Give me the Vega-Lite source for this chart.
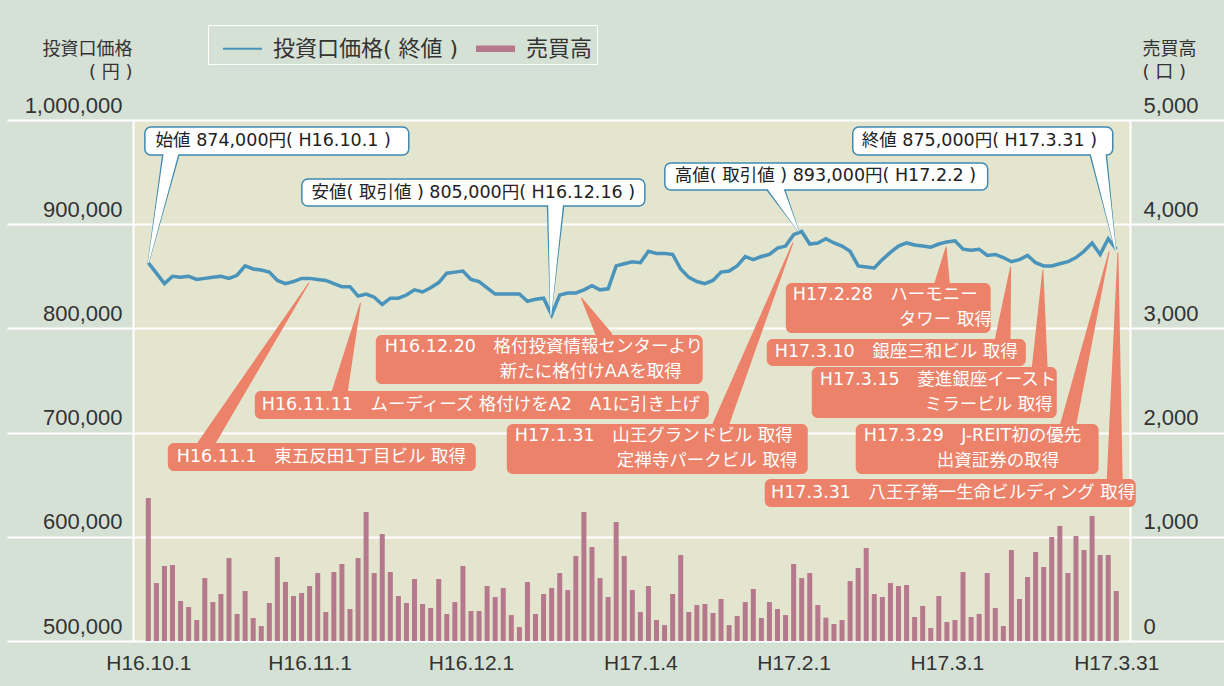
{
  "$schema": "https://vega.github.io/schema/vega-lite/v6.json",
  "width": 997,
  "height": 521,
  "autosize": {"type": "none"},
  "padding": {"left": 133, "top": 120, "right": 94, "bottom": 45},
  "background": "#d6e1d6",
  "config": {"view": {"fill": "#e4e5cf", "stroke": null}, "font": "Liberation Sans"},
  "datasets": {
    "main": [
      {"i":0,"p":863000,"v":1372},{"i":1,"p":853000,"v":556},{"i":2,"p":843000,"v":720},{"i":3,"p":850000,"v":729},{"i":4,"p":849000,"v":384},
      {"i":5,"p":850000,"v":326},{"i":6,"p":847000,"v":201},{"i":7,"p":848000,"v":604},{"i":8,"p":849000,"v":374},{"i":9,"p":850000,"v":451},
      {"i":10,"p":848000,"v":796},{"i":11,"p":851000,"v":259},{"i":12,"p":860000,"v":480},{"i":13,"p":857000,"v":221},{"i":14,"p":856000,"v":144},
      {"i":15,"p":854000,"v":365},{"i":16,"p":846000,"v":806},{"i":17,"p":843000,"v":566},{"i":18,"p":845000,"v":432},{"i":19,"p":848000,"v":461},
      {"i":20,"p":848000,"v":528},{"i":21,"p":847000,"v":652},{"i":22,"p":846000,"v":278},{"i":23,"p":843000,"v":662},{"i":24,"p":840000,"v":739},
      {"i":25,"p":840000,"v":307},{"i":26,"p":831000,"v":796},{"i":27,"p":833000,"v":1238},{"i":28,"p":830000,"v":652},{"i":29,"p":823000,"v":1027},
      {"i":30,"p":829000,"v":662},{"i":31,"p":829000,"v":432},{"i":32,"p":832000,"v":365},{"i":33,"p":837000,"v":595},{"i":34,"p":835000,"v":355},
      {"i":35,"p":839000,"v":317},{"i":36,"p":844000,"v":595},{"i":37,"p":853000,"v":259},{"i":38,"p":854000,"v":374},{"i":39,"p":855000,"v":720},
      {"i":40,"p":847000,"v":288},{"i":41,"p":845000,"v":288},{"i":42,"p":839000,"v":528},{"i":43,"p":833000,"v":422},{"i":44,"p":833000,"v":509},
      {"i":45,"p":833000,"v":249},{"i":46,"p":833000,"v":134},{"i":47,"p":826000,"v":566},{"i":48,"p":828000,"v":259},{"i":49,"p":829000,"v":451},
      {"i":50,"p":813000,"v":509},{"i":51,"p":832000,"v":652},{"i":52,"p":834000,"v":489},{"i":53,"p":834000,"v":816},{"i":54,"p":837000,"v":1238},
      {"i":55,"p":841000,"v":902},{"i":56,"p":837000,"v":604},{"i":57,"p":838000,"v":422},{"i":58,"p":860000,"v":1142},{"i":59,"p":862000,"v":816},
      {"i":60,"p":864000,"v":489},{"i":61,"p":863000,"v":278},{"i":62,"p":874000,"v":528},{"i":63,"p":872000,"v":201},{"i":64,"p":872000,"v":153},
      {"i":65,"p":871000,"v":451},{"i":66,"p":857000,"v":825},{"i":67,"p":849000,"v":278},{"i":68,"p":845000,"v":345},{"i":69,"p":843000,"v":355},
      {"i":70,"p":846000,"v":269},{"i":71,"p":854000,"v":403},{"i":72,"p":855000,"v":153},{"i":73,"p":860000,"v":240},{"i":74,"p":869000,"v":374},
      {"i":75,"p":866000,"v":499},{"i":76,"p":869000,"v":221},{"i":77,"p":871000,"v":374},{"i":78,"p":877000,"v":307},{"i":79,"p":879000,"v":249},
      {"i":80,"p":890000,"v":739},{"i":81,"p":893000,"v":604},{"i":82,"p":881000,"v":652},{"i":83,"p":882000,"v":345},{"i":84,"p":886000,"v":224},
      {"i":85,"p":882000,"v":163},{"i":86,"p":879000,"v":201},{"i":87,"p":874000,"v":576},{"i":88,"p":860000,"v":700},{"i":89,"p":859000,"v":892},
      {"i":90,"p":858000,"v":451},{"i":91,"p":866000,"v":422},{"i":92,"p":873000,"v":556},{"i":93,"p":879000,"v":528},{"i":94,"p":882000,"v":537},
      {"i":95,"p":880000,"v":230},{"i":96,"p":879000,"v":336},{"i":97,"p":878000,"v":125},{"i":98,"p":881000,"v":432},{"i":99,"p":883000,"v":182},
      {"i":100,"p":884000,"v":201},{"i":101,"p":876000,"v":662},{"i":102,"p":875000,"v":230},{"i":103,"p":876000,"v":259},{"i":104,"p":870000,"v":652},
      {"i":105,"p":871000,"v":317},{"i":106,"p":868000,"v":144},{"i":107,"p":864000,"v":873},{"i":108,"p":866000,"v":403},{"i":109,"p":870000,"v":614},
      {"i":110,"p":863000,"v":854},{"i":111,"p":860000,"v":710},{"i":112,"p":860000,"v":998},{"i":113,"p":862000,"v":1104},{"i":114,"p":864000,"v":652},
      {"i":115,"p":868000,"v":1008},{"i":116,"p":874000,"v":873},{"i":117,"p":882000,"v":1200},{"i":118,"p":871000,"v":825},{"i":119,"p":886000,"v":825},
      {"i":120,"p":876000,"v":480}
    ],
    "wbox": [
      {"xa":-0.43,"xb":32.29,"ya":993300,"yb":966400},
      {"xa":19.03,"xb":61.55,"ya":943400,"yb":917500},
      {"xa":64.03,"xb":104.06,"ya":958700,"yb":932800},
      {"xa":87.33,"xb":119.56,"ya":993300,"yb":966400}
    ],
    "obox": [
      {"xa":2.42,"xb":40.6,"ya":690000,"yb":663100},
      {"xa":13.2,"xb":69.48,"ya":739900,"yb":713000},
      {"xa":28.2,"xb":68.73,"ya":793700,"yb":746600},
      {"xa":44.44,"xb":81.75,"ya":708200,"yb":660300},
      {"xa":79.03,"xb":104.43,"ya":843600,"yb":795600},
      {"xa":76.67,"xb":108.78,"ya":789800,"yb":763900},
      {"xa":82.25,"xb":112.62,"ya":763000,"yb":714000},
      {"xa":87.7,"xb":117.81,"ya":708200,"yb":660300},
      {"xa":76.42,"xb":122.41,"ya":655500,"yb":628600}
    ],
    "wwedge": [
      {"id":"w1","t":0,"px":2.9,"py":971200},{"id":"w1","t":1,"px":0,"py":863000},
      {"id":"w2","t":0,"px":50.5,"py":920300},{"id":"w2","t":1,"px":49.9,"py":813000},
      {"id":"w3","t":0,"px":77.7,"py":935700},{"id":"w3","t":1,"px":80.6,"py":893500},
      {"id":"w4","t":0,"px":117.7,"py":970000},{"id":"w4","t":1,"px":119.9,"py":875500}
    ],
    "owedge": [
      {"id":"o5","t":0,"px":7.0,"py":687100},{"id":"o5","t":1,"px":19.9,"py":843600},
      {"id":"o6","t":0,"px":23.7,"py":738000},{"id":"o6","t":1,"px":26.3,"py":824400},
      {"id":"o7","t":0,"px":56.6,"py":791700},{"id":"o7","t":1,"px":53.7,"py":829200},
      {"id":"o8","t":0,"px":70.9,"py":706300},{"id":"o8","t":1,"px":79.9,"py":882000},
      {"id":"o9","t":0,"px":98.4,"py":841700},{"id":"o9","t":1,"px":98.9,"py":878100},
      {"id":"o10","t":0,"px":105.9,"py":787900},{"id":"o10","t":1,"px":106.9,"py":858900},
      {"id":"o11","t":0,"px":110.5,"py":761000},{"id":"o11","t":1,"px":110.9,"py":856000},
      {"id":"o12","t":0,"px":114.0,"py":706300},{"id":"o12","t":1,"px":119.1,"py":873300},
      {"id":"o13","t":0,"px":119.8,"py":653500},{"id":"o13","t":1,"px":120.2,"py":872400}
    ],
    "wtext": [
      {"px":0.9,"py":979800,"label":"始値 874,000円( H16.10.1 )"},
      {"px":20.23,"py":930400,"label":"安値( 取引値 ) 805,000円( H16.12.16 )"},
      {"px":65.27,"py":945800,"label":"高値( 取引値 ) 893,000円( H17.2.2 )"},
      {"px":88.45,"py":979800,"label":"終値 875,000円( H17.3.31 )"}
    ],
    "otext": [
      {"px":3.53,"py":676600,"label":"H16.11.1　東五反田1丁目ビル 取得"},
      {"px":14.07,"py":726500,"label":"H16.11.11　ムーディーズ 格付けをA2　A1に引き上げ"},
      {"px":29.32,"py":782100,"label":"H16.12.20　格付投資情報センターより"},
      {"px":43.57,"py":758200,"label":"新たに格付けAAを取得"},
      {"px":45.43,"py":696700,"label":"H17.1.31　山王グランドビル 取得"},
      {"px":58.08,"py":672700,"label":"定禅寺パークビル 取得"},
      {"px":79.9,"py":832100,"label":"H17.2.28　ハーモニー"},
      {"px":93.04,"py":808100,"label":"タワー 取得"},
      {"px":77.66,"py":776900,"label":"H17.3.10　銀座三和ビル 取得"},
      {"px":83.24,"py":750500,"label":"H17.3.15　菱進銀座イースト"},
      {"px":96.25,"py":726500,"label":"ミラービル 取得"},
      {"px":88.7,"py":696700,"label":"H17.3.29　J-REIT初の優先"},
      {"px":97.74,"py":672700,"label":"出資証券の取得"},
      {"px":77.2,"py":642000,"label":"H17.3.31　八王子第一生命ビルディング 取得"}
    ]
  },
  "layer": [
    {
      "data": {"name": "main"},
      "mark": {"type": "bar", "width": 5},
      "encoding": {
        "x": {"field": "i", "type": "quantitative", "scale": {"domain": [-1.9, 121.7], "nice": false, "zero": false, "padding": 0},
          "axis": {"title": null, "values": [0, 20, 40, 61, 80, 99, 120], "domain": false, "ticks": false, "grid": false,
            "labelExpr": "datum.value == 0 ? 'H16.10.1' : datum.value == 20 ? 'H16.11.1' : datum.value == 40 ? 'H16.12.1' : datum.value == 61 ? 'H17.1.4' : datum.value == 80 ? 'H17.2.1' : datum.value == 99 ? 'H17.3.1' : 'H17.3.31'",
            "labelFont": "Liberation Sans", "labelFontSize": 21, "labelColor": "#333333", "labelPadding": 11, "labelFlush": false, "labelOverlap": false}},
        "y": {"field": "v", "type": "quantitative", "scale": {"domain": [0, 5000], "nice": false},
          "axis": {"orient": "right", "values": [0, 1000, 2000, 3000, 4000, 5000], "format": ",.0f", "grid": false,
            "domainColor": "#ffffff", "domainWidth": 2, "tickColor": "#ffffff", "tickWidth": 2, "tickSize": 94,
            "labelAlign": "left", "labelBaseline": "alphabetic", "labelOffset": -8, "labelPadding": -81,
            "labelFont": "Liberation Sans", "labelFontSize": 22, "labelColor": "#333333", "labelFlush": false, "labelOverlap": false,
            "title": ["売買高", "( 口 )"], "titleAngle": 0, "titleAlign": "left", "titleBaseline": "top", "titleX": 12, "titleY": -80,
            "titleFont": "'DejaVu Sans', 'Noto Sans CJK JP'", "titleFontSize": 18, "titleFontWeight": "normal", "titleColor": "#333333", "titleLineHeight": 23}},
        "color": {"datum": "売買高", "type": "nominal",
          "scale": {"domain": ["投資口価格( 終値 )", "売買高"], "range": ["#4a93ba", "#b5788c"]},
          "legend": {"title": null, "orient": "none", "legendX": 75, "legendY": -95, "direction": "horizontal",
            "padding": 4, "strokeColor": "#ffffff", "symbolOffset": 11, "labelLimit": 0,
            "labelFont": "'DejaVu Sans', 'Noto Sans CJK JP'", "labelFontSize": 22, "labelColor": "#333333", "labelOffset": 11, "columnPadding": 6,
            "symbolSize": 1521, "symbolStrokeWidth": 0,
            "encode": {"symbols": {"update": {
              "shape": {"signal": "datum.value === '売買高' ? 'M-1,-0.17L1,-0.17L1,0.17L-1,0.17Z' : 'M-1,-0.045L1,-0.045L1,0.045L-1,0.045Z'"},
              "fill": {"signal": "datum.value === '売買高' ? '#b5788c' : '#4a93ba'"},
              "opacity": {"value": 1}}}}}}
      }
    },
    {
      "layer": [
        {
          "data": {"name": "main"},
          "mark": {"type": "line", "strokeWidth": 3.5},
          "encoding": {
            "x": {"field": "i", "type": "quantitative", "scale": {"domain": [-1.9, 121.7], "nice": false, "zero": false, "padding": 0}},
            "y": {"field": "p", "type": "quantitative", "scale": {"domain": [500000, 1000000], "nice": false, "zero": false},
              "axis": {"orient": "left", "values": [500000, 600000, 700000, 800000, 900000, 1000000], "format": ",.0f",
                "grid": true, "gridColor": "#ffffff", "gridWidth": 2,
                "domainColor": "#ffffff", "domainWidth": 2, "tickColor": "#ffffff", "tickWidth": 2, "tickSize": 126,
                "labelAlign": "right", "labelBaseline": "alphabetic", "labelOffset": -8, "labelPadding": -115,
                "labelFont": "Liberation Sans", "labelFontSize": 22, "labelColor": "#333333", "labelFlush": false, "labelOverlap": false,
                "title": ["投資口価格", "( 円 )"], "titleAngle": 0, "titleAlign": "right", "titleBaseline": "top", "titleX": -1, "titleY": -80,
                "titleFont": "'DejaVu Sans', 'Noto Sans CJK JP'", "titleFontSize": 18, "titleFontWeight": "normal", "titleColor": "#333333", "titleLineHeight": 23}},
            "color": {"datum": "投資口価格( 終値 )", "type": "nominal",
              "scale": {"domain": ["投資口価格( 終値 )", "売買高"], "range": ["#4a93ba", "#b5788c"]}, "legend": null}
          }
        },
        {
          "data": {"name": "wwedge"},
          "mark": {"type": "trail", "color": "#3e8ab0"},
          "encoding": {
            "x": {"field": "px", "type": "quantitative", "scale": {"domain": [-1.9, 121.7], "nice": false, "zero": false, "padding": 0}},
            "y": {"field": "py", "type": "quantitative", "scale": {"domain": [500000, 1000000], "nice": false, "zero": false}},
            "detail": {"field": "id", "type": "nominal"},
            "order": {"field": "t", "type": "quantitative"},
            "size": {"field": "t", "type": "quantitative", "scale": {"domain": [0, 1], "range": [18, 1.5]}, "legend": null}
          }
        },
        {
          "data": {"name": "wbox"},
          "mark": {"type": "rect", "fill": "#ffffff", "stroke": "#3e8ab0", "strokeWidth": 1.5, "cornerRadius": 6},
          "encoding": {
            "x": {"field": "xa", "type": "quantitative", "scale": {"domain": [-1.9, 121.7], "nice": false, "zero": false, "padding": 0}},
            "x2": {"field": "xb"},
            "y": {"field": "ya", "type": "quantitative", "scale": {"domain": [500000, 1000000], "nice": false, "zero": false}},
            "y2": {"field": "yb"}
          }
        },
        {
          "data": {"name": "wwedge"},
          "mark": {"type": "trail", "color": "#ffffff"},
          "encoding": {
            "x": {"field": "px", "type": "quantitative", "scale": {"domain": [-1.9, 121.7], "nice": false, "zero": false, "padding": 0}},
            "y": {"field": "py", "type": "quantitative", "scale": {"domain": [500000, 1000000], "nice": false, "zero": false}},
            "detail": {"field": "id", "type": "nominal"},
            "order": {"field": "t", "type": "quantitative"},
            "size": {"field": "t", "type": "quantitative", "scale": {"domain": [0, 1], "range": [15, 0]}, "legend": null}
          }
        },
        {
          "data": {"name": "wtext"},
          "mark": {"type": "text", "align": "left", "baseline": "middle", "font": "'DejaVu Sans', 'Noto Sans CJK JP'", "fontSize": 17.5, "color": "#222222"},
          "encoding": {
            "x": {"field": "px", "type": "quantitative", "scale": {"domain": [-1.9, 121.7], "nice": false, "zero": false, "padding": 0}},
            "y": {"field": "py", "type": "quantitative", "scale": {"domain": [500000, 1000000], "nice": false, "zero": false}},
            "text": {"field": "label", "type": "nominal"}
          }
        },
        {
          "data": {"name": "owedge"},
          "mark": {"type": "trail", "color": "#eb8269"},
          "encoding": {
            "x": {"field": "px", "type": "quantitative", "scale": {"domain": [-1.9, 121.7], "nice": false, "zero": false, "padding": 0}},
            "y": {"field": "py", "type": "quantitative", "scale": {"domain": [500000, 1000000], "nice": false, "zero": false}},
            "detail": {"field": "id", "type": "nominal"},
            "order": {"field": "t", "type": "quantitative"},
            "size": {"field": "t", "type": "quantitative", "scale": {"domain": [0, 1], "range": [16, 0]}, "legend": null}
          }
        },
        {
          "data": {"name": "obox"},
          "mark": {"type": "rect", "fill": "#eb8269", "cornerRadius": 6},
          "encoding": {
            "x": {"field": "xa", "type": "quantitative", "scale": {"domain": [-1.9, 121.7], "nice": false, "zero": false, "padding": 0}},
            "x2": {"field": "xb"},
            "y": {"field": "ya", "type": "quantitative", "scale": {"domain": [500000, 1000000], "nice": false, "zero": false}},
            "y2": {"field": "yb"}
          }
        },
        {
          "data": {"name": "otext"},
          "mark": {"type": "text", "align": "left", "baseline": "middle", "font": "'DejaVu Sans', 'Noto Sans CJK JP'", "fontSize": 17.5, "color": "#ffffff"},
          "encoding": {
            "x": {"field": "px", "type": "quantitative", "scale": {"domain": [-1.9, 121.7], "nice": false, "zero": false, "padding": 0}},
            "y": {"field": "py", "type": "quantitative", "scale": {"domain": [500000, 1000000], "nice": false, "zero": false}},
            "text": {"field": "label", "type": "nominal"}
          }
        }
      ],
      "resolve": {"scale": {"size": "independent"}}
    }
  ],
  "resolve": {"scale": {"y": "independent"}}
}
